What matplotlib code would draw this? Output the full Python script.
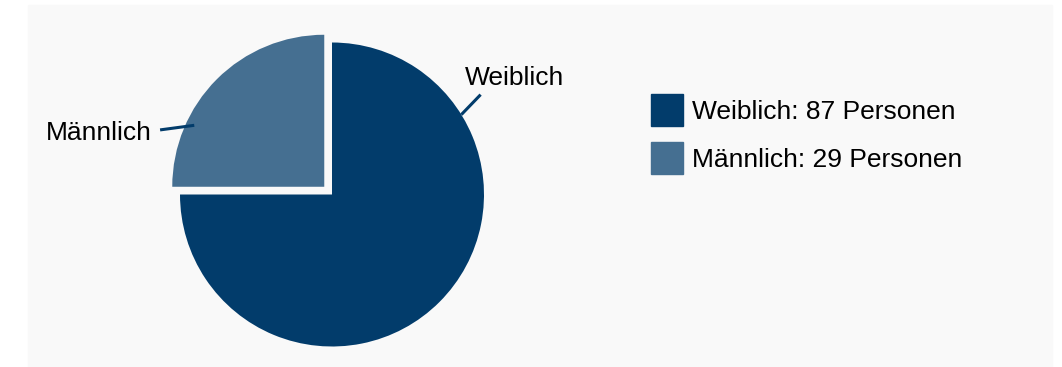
import numpy as np
import matplotlib.pyplot as plt
from matplotlib.patches import Rectangle

# Daten
labels = ['Weiblich', 'Männlich']
counts = [87, 29]
colors = ['#023c6b', '#456f91']
legend_texts = [f'{l}: {c} Personen' for l, c in zip(labels, counts)]

W, H = 1062, 367
plt.rcParams['font.family'] = ['Liberation Sans', 'DejaVu Sans']

fig = plt.figure(figsize=(W / 100, H / 100), dpi=100)
ax = fig.add_axes([0, 0, 1, 1])

# heller Hintergrund
ax.add_patch(Rectangle((28, 0), 1052 - 28, H - 5, color='#f9f9f9', zorder=0))

cx, cy, r = 332, H - 194.5, 152
# explode ist in Datenkoordinaten -> mit Radius skalieren
wedges, _ = ax.pie(counts, colors=colors, startangle=90, counterclock=False,
                   explode=[0, 0.072 * r], center=(cx, cy), radius=r,
                   wedgeprops={'linewidth': 0}, frame=True)
ax.set_xlim(0, W)
ax.set_ylim(0, H)
ax.set_aspect('equal')
ax.axis('off')

# Beschriftungen mit Verbindungslinie: (Winkel innen, r innen, Winkel aussen, r aussen)
label_pos = [(31.7, 1.0, 33.9, 1.178), (154.7, 0.946, 160.9, 1.143)]
text_off = [(-16, 17, 'left'), (-8, -3, 'right')]
for w, lab, (a0, r0, a1, r1), (tx, ty, ha) in zip(wedges, labels, label_pos, text_off):
    wx, wy = w.center
    a0, a1 = np.deg2rad(a0), np.deg2rad(a1)
    p0 = (wx + r0 * r * np.cos(a0), wy + r0 * r * np.sin(a0))
    p1 = (wx + r1 * r * np.cos(a1), wy + r1 * r * np.sin(a1))
    ax.plot([p0[0], p1[0]], [p0[1], p1[1]], color='#023c6b', lw=2.2,
            solid_capstyle='butt')
    ax.text(p1[0] + tx, p1[1] + ty, lab, ha=ha, va='center', fontsize=19,
            color='black')

# Legende
for i, (txt, col) in enumerate(zip(legend_texts, colors)):
    y = H - 110 - i * 48
    ax.add_patch(Rectangle((651, y - 16), 32, 32, color=col))
    ax.text(692, y - 2, txt, ha='left', va='center', fontsize=19, color='black')

fig.savefig('out.png', dpi=100)
